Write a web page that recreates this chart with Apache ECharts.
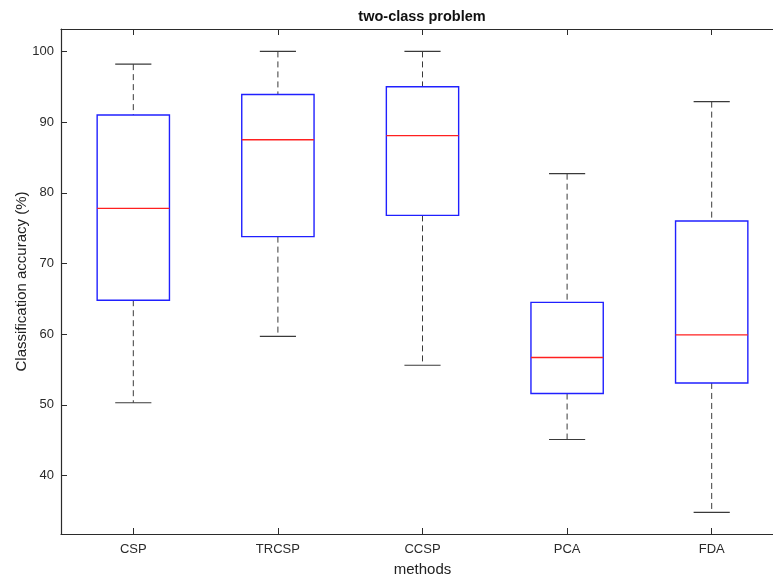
<!DOCTYPE html>
<html>
<head>
<meta charset="utf-8">
<script src="https://cdn.jsdelivr.net/npm/echarts@6/dist/echarts.min.js"></script>
<style>html,body{margin:0;padding:0;background:#fff;}#c{width:773px;height:575px;}</style>
</head>
<body>
<div id="c"></div>
<script>
var categories = ['CSP', 'TRCSP', 'CCSP', 'PCA', 'FDA'];
var lowerWhisker = [50.3, 59.7, 55.6, 45.1, 34.8];
var q1 = [64.8, 73.8, 76.8, 51.6, 53.1];
var median = [77.8, 87.5, 88.1, 56.7, 59.9];
var q3 = [91.0, 93.9, 95.0, 64.5, 76.0];
var upperWhisker = [98.2, 100.0, 100.0, 82.7, 92.9];
var yTicks = [40, 50, 60, 70, 80, 90, 100];

var FONT = "'Liberation Sans', Arial, sans-serif";
var AX = '#2b2b2b';

var boxData = categories.map(function (c, i) {
  return [i, lowerWhisker[i], q1[i], median[i], q3[i], upperWhisker[i]];
});

function renderBox(params, api) {
  var idx = api.value(0);
  var band = api.size([1, 0])[0];
  var bw = band * 0.5, cw = band * 0.25;
  var pLow = api.coord([idx, api.value(1)]);
  var pQ1 = api.coord([idx, api.value(2)]);
  var pMed = api.coord([idx, api.value(3)]);
  var pQ3 = api.coord([idx, api.value(4)]);
  var pUp = api.coord([idx, api.value(5)]);
  var x = pMed[0];
  var dash = { stroke: '#3a3a3a', lineWidth: 1, lineDash: [6, 4] };
  var solid = { stroke: '#3a3a3a', lineWidth: 1.2 };
  return {
    type: 'group',
    children: [
      { type: 'line', shape: { x1: x, y1: pUp[1], x2: x, y2: pQ3[1] }, style: dash },
      { type: 'line', shape: { x1: x, y1: pQ1[1], x2: x, y2: pLow[1] }, style: dash },
      { type: 'line', shape: { x1: x - cw / 2, y1: pUp[1], x2: x + cw / 2, y2: pUp[1] }, style: solid },
      { type: 'line', shape: { x1: x - cw / 2, y1: pLow[1], x2: x + cw / 2, y2: pLow[1] }, style: solid },
      { type: 'rect', shape: { x: x - bw / 2, y: pQ3[1], width: bw, height: pQ1[1] - pQ3[1] },
        style: { fill: 'none', stroke: '#2020ff', lineWidth: 1.4 } },
      { type: 'line', shape: { x1: x - bw / 2, y1: pMed[1], x2: x + bw / 2, y2: pMed[1] },
        style: { stroke: '#ff2020', lineWidth: 1.3 } }
    ]
  };
}

var chart = echarts.init(document.getElementById('c'), null, { renderer: 'canvas' });
chart.setOption({
  animation: false,
  backgroundColor: '#ffffff',
  title: {
    text: 'two-class problem',
    left: 422, top: 9, textAlign: 'center', padding: 0,
    textStyle: { fontFamily: FONT, fontSize: 14.5, fontWeight: 'bold', color: '#111' }
  },
  grid: { left: 61, right: -11, top: 29, bottom: 41, outerBoundsMode: 'none', containLabel: false },
  xAxis: [{
    type: 'category',
    data: categories,
    position: 'bottom',
    boundaryGap: true,
    name: 'methods',
    nameLocation: 'middle',
    nameGap: 28,
    nameMoveOverlap: false,
    nameTextStyle: { fontFamily: FONT, fontSize: 15, color: '#222' },
    axisLine: { show: true, lineStyle: { color: AX, width: 1.2 } },
    axisTick: { show: true, inside: true, length: 6, alignWithLabel: true, lineStyle: { color: AX } },
    axisLabel: { fontFamily: FONT, fontSize: 13, color: '#2a2a2a', margin: 9 },
    splitLine: { show: false }
  }, {
    type: 'category',
    data: categories,
    position: 'top',
    boundaryGap: true,
    axisLine: { show: true, lineStyle: { color: AX, width: 1.2 } },
    axisTick: { show: true, inside: true, length: 6, alignWithLabel: true, lineStyle: { color: AX } },
    axisLabel: { show: false },
    splitLine: { show: false }
  }],
  yAxis: {
    type: 'value',
    min: 31.73,
    max: 103.17,
    splitNumber: 7,
    name: 'Classification accuracy (%)',
    nameLocation: 'middle',
    nameGap: 32,
    nameMoveOverlap: false,
    nameTextStyle: { fontFamily: FONT, fontSize: 15, color: '#222' },
    axisLine: { show: true, lineStyle: { color: AX, width: 1.2 } },
    axisTick: { show: true, inside: true, length: 6, lineStyle: { color: AX } },
    axisLabel: {
      fontFamily: FONT, fontSize: 13, color: '#2a2a2a', margin: 7,
      showMinLabel: false, showMaxLabel: false,
      formatter: function (v) { return yTicks.indexOf(Math.round(v * 1000) / 1000) >= 0 ? String(v) : ''; }
    },
    splitLine: { show: false }
  },
  series: [{
    type: 'custom',
    xAxisIndex: 0,
    renderItem: renderBox,
    encode: { x: 0, y: [1, 2, 3, 4, 5] },
    data: boxData,
    clip: false
  }]
});
</script>
</body>
</html>
